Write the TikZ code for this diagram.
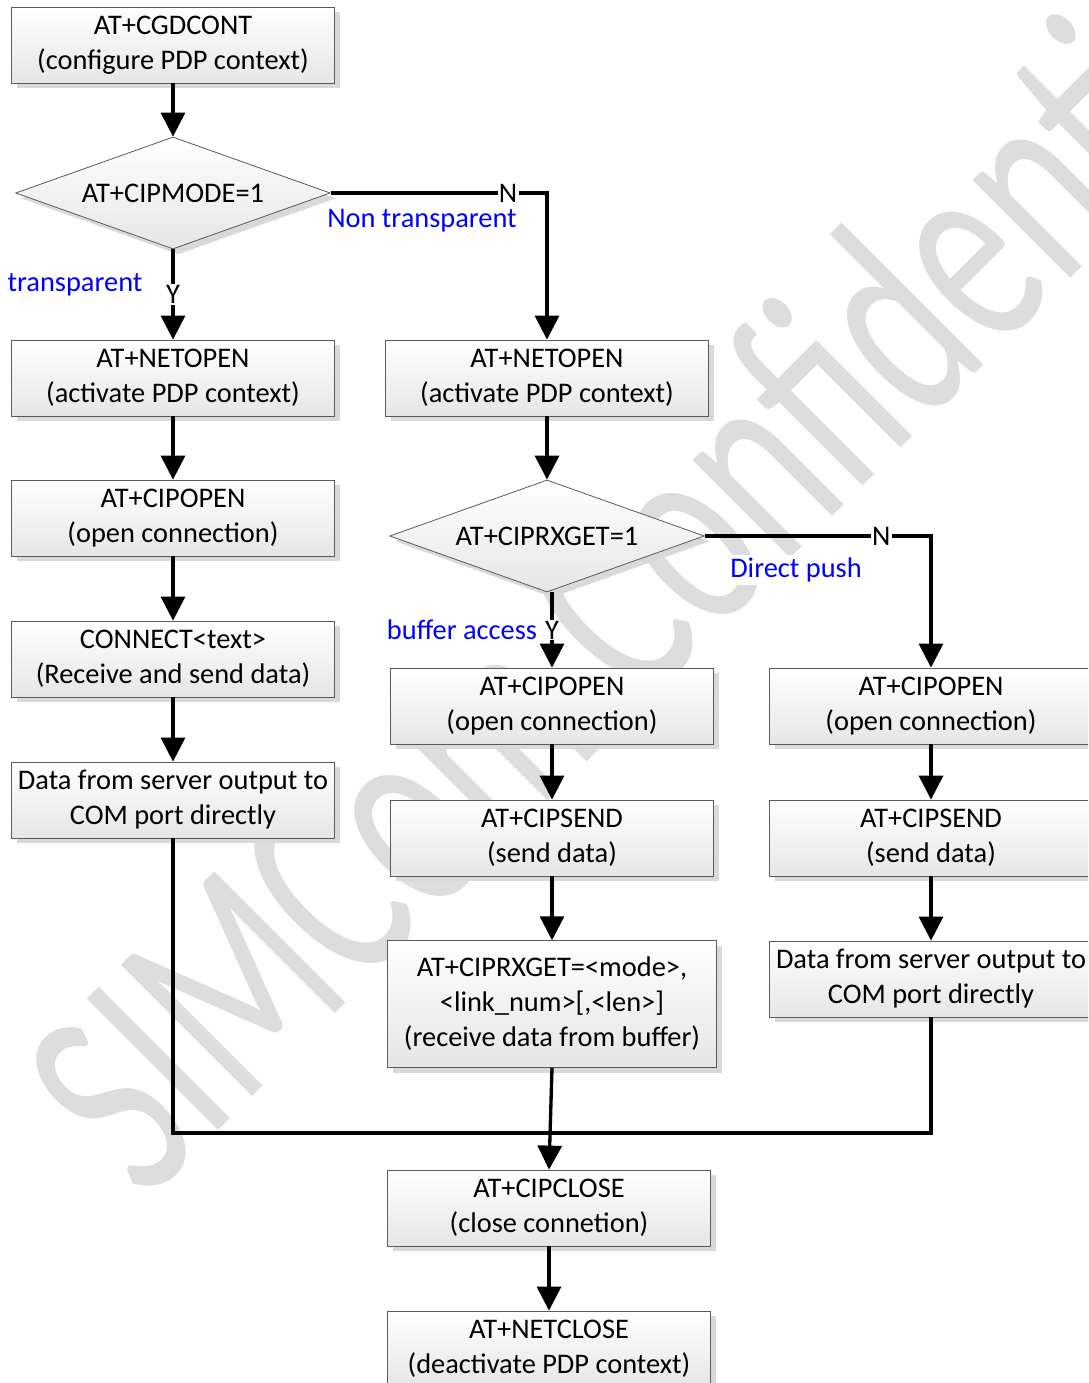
\documentclass[tikz,border=0pt]{standalone}
\usepackage{fontspec}
\setmainfont{Carlito}
\usetikzlibrary{arrows.meta,shapes.geometric,shadows}
\definecolor{wm}{HTML}{DDDDDD}
\definecolor{bdr}{HTML}{5A5A5A}
\definecolor{lbl}{HTML}{0000FF}
\begin{document}
\begin{tikzpicture}[x=0.75pt,y=-0.75pt,
  font=\fontsize{21.3}{26.25}\selectfont,
  mybox/.style={draw=bdr, line width=0.6pt, top color=white, bottom color=black!10,
    minimum width=242pt, minimum height=57pt, align=center, inner sep=2pt,
    drop shadow={shadow xshift=4pt, shadow yshift=-4pt, fill=black!15, opacity=1}},
  mydia/.style={diamond, draw=bdr, line width=0.6pt, top color=white, bottom color=black!10,
    minimum width=236pt, minimum height=84pt, aspect=2.8, inner sep=0pt,
    drop shadow={shadow xshift=4pt, shadow yshift=-4pt, fill=black!15, opacity=1}},
  arr/.style={-{Triangle[width=18pt,length=18pt]}, line width=2.5pt},
  ln/.style={line width=2.5pt},
  yn/.style={fill=white, inner sep=1pt, text=black},
  bl/.style={text=lbl, fill=white, inner sep=2pt}]
\useasboundingbox (0,0) rectangle (1088,1383);
\clip (0,0) rectangle (1088,1383);
\fill[white] (0,0) rectangle (1088,1383);
% watermark
\node[anchor=base west, rotate=45, text=wm, font=\fontsize{217}{217}\selectfont, inner sep=0pt] (wmk) at (145,1204) {\scalebox{0.66}[1]{SIMCom Confidential}};
% boxes
\node[mybox] (b1) at (173,45) {AT+CGDCONT\\(configure PDP context)};
\node[mydia] (d1) at (173,193) {AT+CIPMODE=1};
\node[mybox] (b2) at (173,378) {AT+NETOPEN\\(activate PDP context)};
\node[mybox] (b3) at (547,378) {AT+NETOPEN\\(activate PDP context)};
\node[mybox] (b4) at (173,518) {AT+CIPOPEN\\(open connection)};
\node[mybox] (b5) at (173,659) {CONNECT<text>\\(Receive and send data)};
\node[mybox] (b6) at (173,800) {Data from server output to\\COM port directly};
\node[mydia] (d2) at (547,536) {AT+CIPRXGET=1};
\node[mybox] (b7) at (552,706) {AT+CIPOPEN\\(open connection)};
\node[mybox] (b8) at (552,838) {AT+CIPSEND\\(send data)};
\node[mybox, minimum width=247pt, minimum height=95pt] (b9) at (552,1004) {AT+CIPRXGET=<mode>,\\<link\_num>[,<len>]\\(receive data from buffer)};
\node[mybox] (b10) at (931,706) {AT+CIPOPEN\\(open connection)};
\node[mybox] (b11) at (931,838) {AT+CIPSEND\\(send data)};
\node[mybox] (b12) at (931,979) {Data from server output to\\COM port directly};
\node[mybox] (b13) at (549,1208) {AT+CIPCLOSE\\(close connetion)};
\node[mybox] (b14) at (549,1349) {AT+NETCLOSE\\(deactivate PDP context)};
% blue labels
\node[bl] (lt) at (75,285) {transparent};
\node[bl] (lnt) at (422,221) {Non transparent};
\node[bl] (lba) at (462,630) {buffer access};
\node[bl, inner xsep=8pt] (ldp) at (796,570) {Direct push};
% connectors
\draw[arr] (b1) -- (d1);
\draw[arr] (d1.south) -- node[yn] (y1) {Y} (b2.north);
\draw[arr] (d1.east) -| node[yn, pos=0.41] (n1) {N} (b3.north);
\draw[arr] (b2) -- (b4);
\draw[arr] (b4) -- (b5);
\draw[arr] (b5) -- (b6);
\draw[arr] (b3) -- (d2);
\draw[arr] (d2.south -| b7.north) -- node[yn] (y2) {Y} (b7.north);
\draw[arr] (d2.east) -| node[yn, pos=0.39] (n2) {N} (b10.north);
\draw[arr] (b7) -- (b8);
\draw[arr] (b8) -- (b9);
\draw[arr] (b10) -- (b11);
\draw[arr] (b11) -- (b12);
\coordinate (jl) at (173,1133);
\coordinate (jr) at (931,1133);
\draw[ln] (b6.south) -- (jl) -- (jr) -- (b12.south);
\draw[arr] (b9.south) -- (b13.north);
\draw[arr] (b13) -- (b14);
\end{tikzpicture}
\end{document}
